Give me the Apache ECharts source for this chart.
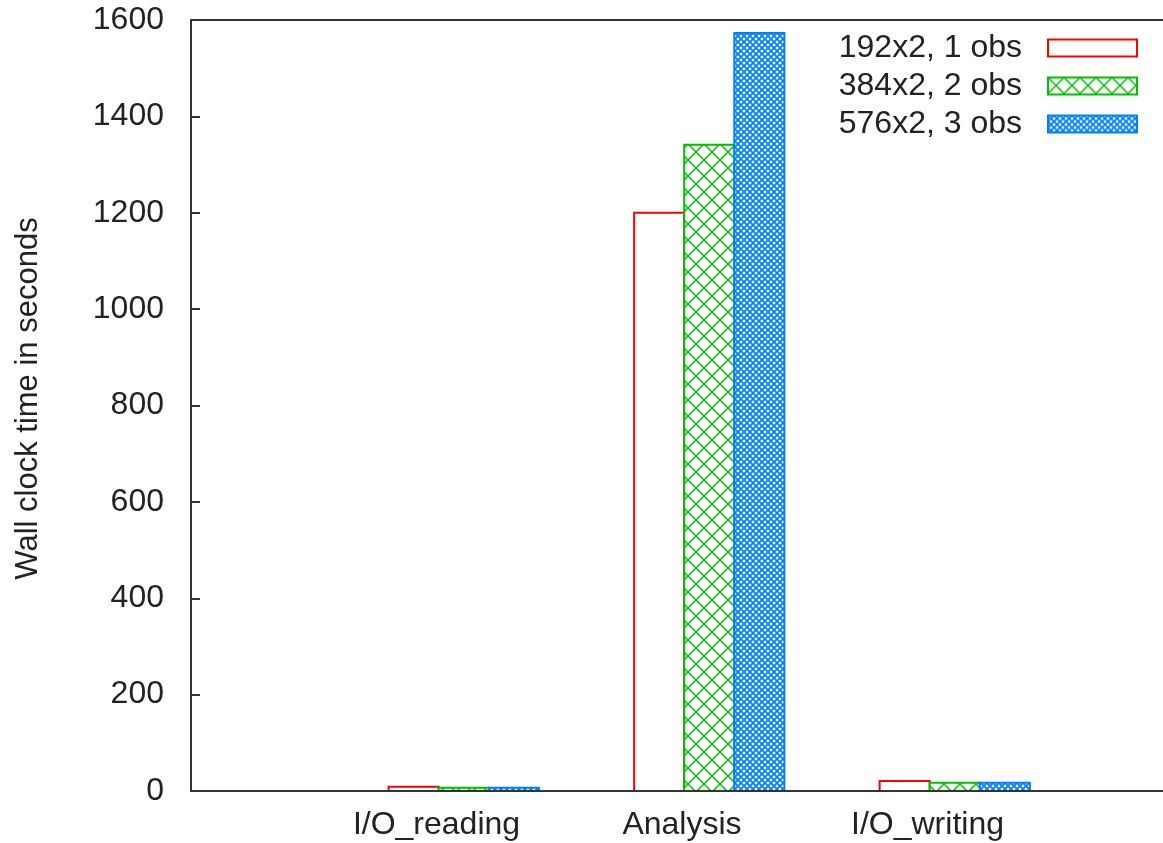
<!DOCTYPE html>
<html>
<head>
<meta charset="utf-8">
<script src="https://cdn.jsdelivr.net/npm/echarts@6/dist/echarts.min.js"></script>
<style>
  html, body { margin: 0; padding: 0; background: #fff; }
  #chart { width: 1163px; height: 843px; }
</style>
</head>
<body>
<div id="chart"></div>
<script>
// Wall clock time per stage, for three run configurations
const categories = ['I/O_reading', 'Analysis', 'I/O_writing'];
const seriesNames = ['192x2, 1 obs', '384x2, 2 obs', '576x2, 3 obs'];
const obs1 = [9, 1200, 21];
const obs2 = [7, 1341, 17];
const obs3 = [7, 1573, 17];
const seriesValues = [obs1, obs2, obs3];

const FONT = 'Liberation Sans, Arial, sans-serif';
const TEXT = '#222';
const AXIS = '#333';

// crosshatch tile: two diagonals across a square cell
function hatch(size, color, lw) {
  const c = document.createElement('canvas');
  c.width = c.height = size;
  const g = c.getContext('2d');
  g.fillStyle = '#fff';
  g.fillRect(0, 0, size, size);
  g.strokeStyle = color;
  g.lineWidth = lw;
  g.beginPath();
  g.moveTo(0, 0); g.lineTo(size, size);
  g.moveTo(size, 0); g.lineTo(0, size);
  g.stroke();
  return c;
}

const looks = [
  { fill: 'rgba(255,255,255,0)', stroke: '#ff0000' },
  { fill: { image: hatch(16, '#00c000', 1.5), repeat: 'repeat' }, stroke: '#00c000' },
  { fill: { image: hatch(6, '#0080ff', 1.8), repeat: 'repeat' }, stroke: '#0080ff' }
];

// cluster layout in axis units
const BAR_W = 0.204;
const CLUSTER_START = -0.195;

function makeSeries(j) {
  return {
    type: 'custom',
    name: seriesNames[j],
    z: 2,
    encode: { x: 0, y: 1 },
    data: seriesValues[j].map((v, i) => [i, v]),
    renderItem: function (params, api) {
      const x = api.value(0);
      const v = api.value(1);
      const left = x + CLUSTER_START + j * BAR_W;
      const p0 = api.coord([left, v]);
      const p1 = api.coord([left + BAR_W, 0]);
      return {
        type: 'rect',
        shape: { x: p0[0], y: p0[1], width: p1[0] - p0[0], height: p1[1] - p0[1] },
        style: { fill: looks[j].fill, stroke: looks[j].stroke, lineWidth: 2 }
      };
    }
  };
}

const chart = echarts.init(document.getElementById('chart'), null, { renderer: 'canvas' });

chart.setOption({
  animation: false,
  backgroundColor: '#fff',
  // the plot frame runs a little past the right edge of the canvas
  grid: { left: 191, top: 20, width: 982, height: 771, containLabel: false, outerBoundsMode: 'none' },
  legend: {
    orient: 'vertical',
    right: 20,
    top: 26,
    align: 'right',
    itemWidth: 89,
    itemHeight: 17,
    itemGap: 4,
    selectedMode: false,
    textStyle: { fontSize: 32, fontFamily: FONT, color: TEXT, lineHeight: 34, padding: [0, 21, 0, 0] },
    data: seriesNames.map((n, j) => ({
      name: n,
      icon: 'rect',
      itemStyle: { color: looks[j].fill, borderColor: looks[j].stroke, borderWidth: 2 }
    }))
  },
  xAxis: [
    {
      type: 'value',
      min: -1, max: 3, interval: 1,
      position: 'bottom',
      z: 10,
      axisLine: { show: true, onZero: false, lineStyle: { color: AXIS, width: 2 } },
      axisTick: { show: false },
      splitLine: { show: false },
      axisLabel: {
        formatter: v => categories[v] || '',
        fontSize: 32, fontFamily: FONT, color: TEXT, margin: 18
      }
    },
    {
      type: 'value',
      min: -1, max: 3, interval: 1,
      position: 'top',
      z: 10,
      axisLine: { show: true, onZero: false, lineStyle: { color: AXIS, width: 2 } },
      axisTick: { show: false },
      axisLabel: { show: false },
      splitLine: { show: false }
    }
  ],
  yAxis: {
    type: 'value',
    min: 0, max: 1600, interval: 200,
    z: 10,
    name: 'Wall clock time in seconds',
    nameLocation: 'middle',
    nameRotate: 90,
    nameGap: 147,
    nameTextStyle: { fontSize: 31, fontFamily: FONT, color: TEXT, padding: [0, 0, 0, 14] },
    axisLine: { show: true, onZero: false, lineStyle: { color: AXIS, width: 2 } },
    axisTick: { show: true, inside: true, length: 9, lineStyle: { color: AXIS, width: 2 } },
    axisLabel: { fontSize: 32, fontFamily: FONT, color: TEXT, margin: 27, formatter: v => String(v) },
    splitLine: { show: false }
  },
  series: [0, 1, 2].map(makeSeries)
});
</script>
</body>
</html>
